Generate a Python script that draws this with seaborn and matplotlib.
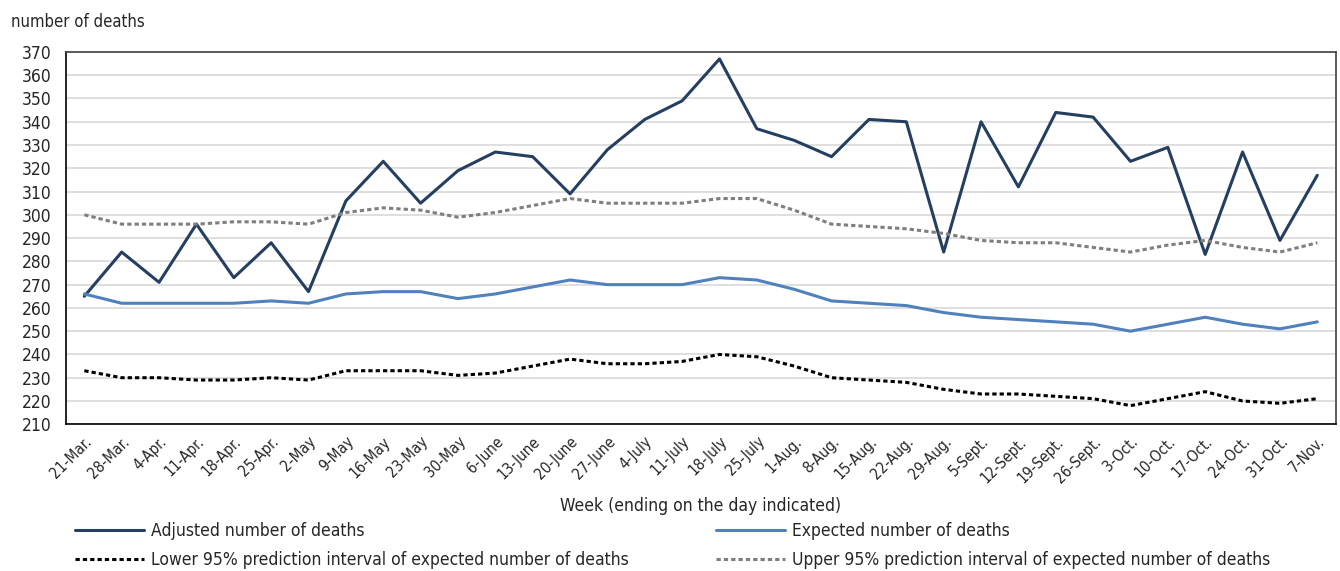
import matplotlib
matplotlib.use("Agg")
import matplotlib.pyplot as plt
import pandas as pd
import seaborn as sns

weeks = ["21-Mar.", "28-Mar.", "4-Apr.", "11-Apr.", "18-Apr.", "25-Apr.", "2-May",
         "9-May", "16-May", "23-May", "30-May", "6-June", "13-June", "20-June",
         "27-June", "4-July", "11-July", "18-July", "25-July", "1-Aug.", "8-Aug.",
         "15-Aug.", "22-Aug.", "29-Aug.", "5-Sept.", "12-Sept.", "19-Sept.",
         "26-Sept.", "3-Oct.", "10-Oct.", "17-Oct.", "24-Oct.", "31-Oct.", "7-Nov."]

adjusted = [265, 284, 271, 296, 273, 288, 267, 306, 323, 305, 319, 327, 325, 309,
            328, 341, 349, 367, 337, 332, 325, 341, 340, 284, 340, 312, 344, 342,
            323, 329, 283, 327, 289, 317]
expected = [266, 262, 262, 262, 262, 263, 262, 266, 267, 267, 264, 266, 269, 272,
            270, 270, 270, 273, 272, 268, 263, 262, 261, 258, 256, 255, 254, 253,
            250, 253, 256, 253, 251, 254]
lower = [233, 230, 230, 229, 229, 230, 229, 233, 233, 233, 231, 232, 235, 238,
         236, 236, 237, 240, 239, 235, 230, 229, 228, 225, 223, 223, 222, 221,
         218, 221, 224, 220, 219, 221]
upper = [300, 296, 296, 296, 297, 297, 296, 301, 303, 302, 299, 301, 304, 307,
         305, 305, 305, 307, 307, 302, 296, 295, 294, 292, 289, 288, 288, 286,
         284, 287, 289, 286, 284, 288]

sns.set_style("white")
# narrow look like the original: DejaVu Sans Condensed
plt.rcParams["font.family"] = ["DejaVu Sans"]
plt.rcParams["font.stretch"] = "condensed"

df = pd.DataFrame({"pos": range(len(weeks)), "week": weeks,
                   "adjusted": adjusted, "expected": expected,
                   "lower": lower, "upper": upper})

fig, ax = plt.subplots(figsize=(13.4, 5.71), dpi=100)
fig.subplots_adjust(left=0.049, right=0.997, top=0.909, bottom=0.257)

dots = (0, (1.4, 1.0))
sns.lineplot(data=df, x="pos", y="adjusted", ax=ax, color="#243f60", lw=2.2,
             label="Adjusted number of deaths")
sns.lineplot(data=df, x="pos", y="expected", ax=ax, color="#4f81bd", lw=2.2,
             label="Expected number of deaths")
sns.lineplot(data=df, x="pos", y="lower", ax=ax, color="black", lw=2.2,
             linestyle=dots,
             label="Lower 95% prediction interval of expected number of deaths")
sns.lineplot(data=df, x="pos", y="upper", ax=ax, color="#7f7f7f", lw=2.2,
             linestyle=dots,
             label="Upper 95% prediction interval of expected number of deaths")

ax.set_xlim(-0.5, len(weeks) - 0.5)
ax.set_ylim(210, 370)
ax.set_yticks(range(210, 371, 10))
ax.yaxis.grid(True, color="#d9d9d9", lw=1.2)
ax.set_axisbelow(True)
ax.tick_params(axis="y", length=0, labelsize=12.5, pad=10)

ax.set_xticks(df["pos"])
ax.set_xticklabels(weeks, rotation=45, ha="right", rotation_mode="anchor",
                   fontsize=11)
ax.set_xticks([p - 0.5 for p in range(len(weeks) + 1)], minor=True)
ax.tick_params(axis="x", which="major", length=0, pad=7)
ax.tick_params(axis="x", which="minor", length=5, direction="out", width=1)

for s in ax.spines.values():
    s.set_color("#404040")
    s.set_linewidth(1.2)
ax.spines["bottom"].set_color("black")
ax.spines["left"].set_color("black")

ax.set_ylabel("")
ax.set_xlabel("Week (ending on the day indicated)", fontsize=12.5, labelpad=8)
fig.text(0.008, 0.962, "number of deaths", fontsize=12, va="center")

ax.legend_.remove()
h, l = ax.get_legend_handles_labels()
order = [0, 2, 1, 3]
fig.legend([h[i] for i in order], [l[i] for i in order], ncol=2,
           loc="upper left", bbox_to_anchor=(0.044, 0.113), frameon=False,
           fontsize=12.5, handlelength=4.0, columnspacing=5.0,
           labelspacing=0.65, handletextpad=0.4)

fig.savefig("out.png", dpi=100)
